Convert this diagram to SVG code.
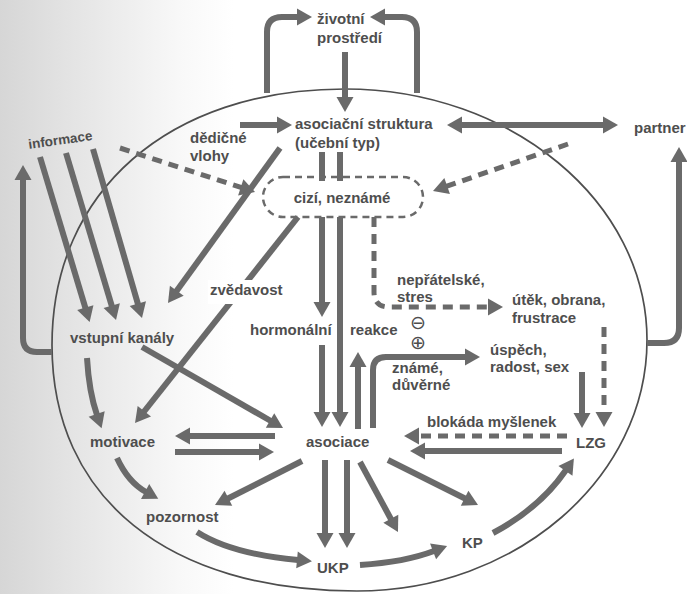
<svg xmlns="http://www.w3.org/2000/svg" width="687" height="594" viewBox="0 0 687 594">
  <defs>
    <linearGradient id="paper" x1="0" y1="0" x2="1" y2="0">
      <stop offset="0" stop-color="#d6d6d6"/>
      <stop offset="0.12" stop-color="#e6e6e6"/>
      <stop offset="0.26" stop-color="#f8f8f8"/>
      <stop offset="0.34" stop-color="#ffffff"/>
    </linearGradient>
    <marker id="ah" markerUnits="userSpaceOnUse" markerWidth="16" markerHeight="18" refX="1" refY="8.5" orient="auto" overflow="visible">
      <path d="M0,0 L15,8.5 L0,17 Z" fill="#6a6a6a"/>
    </marker>
    <marker id="ah2" markerUnits="userSpaceOnUse" markerWidth="16" markerHeight="18" refX="1" refY="8.5" orient="auto-start-reverse" overflow="visible">
      <path d="M0,0 L15,8.5 L0,17 Z" fill="#6a6a6a"/>
    </marker>
    <style>
      text { font-family: "Liberation Sans", Arial, sans-serif; font-weight: bold; font-size: 15px; fill: #4e4e4e; }
      .sym { font-family: "DejaVu Sans", sans-serif; font-weight: normal; font-size: 19px; text-anchor: middle; }
      .ln { fill: none; stroke: #6a6a6a; stroke-width: 6; }
      .arr { fill: none; stroke: #6a6a6a; stroke-width: 6; marker-end: url(#ah); }
      .dash { fill: none; stroke: #6a6a6a; stroke-width: 5; stroke-dasharray: 10 7; marker-end: url(#ah); }
      .outline { fill: none; stroke: #4e4e4e; stroke-width: 1.7; }
    </style>
  </defs>

  <rect width="687" height="594" fill="url(#paper)"/>

  <!-- organism boundary -->
  <path id="boundary" class="outline" d="M345,89 C169,89 52,191 52,345 C52,498 168,591 357,591 C516,591 647,478 647,340 C647,202 511,89 345,89 Z"/>

  <g id="connectors">
    <!-- environment loop -->
    <path class="arr" d="M345,52 V98"/>
    <path class="arr" d="M267,93 V32 Q267,17 282,17 H298"/>
    <path class="arr" d="M417,93 V32 Q417,17 402,17 H384"/>
    <!-- heredity, partner -->
    <path class="arr" d="M240,125 H278"/>
    <path class="ln" d="M461,125 H604" marker-start="url(#ah2)" marker-end="url(#ah2)"/>
    <!-- information into input channels -->
    <path class="arr" d="M40,157 L85.6,308.6"/>
    <path class="arr" d="M66,153 L112,306.6"/>
    <path class="arr" d="M93,149 L138.1,304.6"/>
    <!-- outer feedback loops -->
    <path class="arr" d="M52,352 H37 Q23,352 23,338 V179"/>
    <path class="arr" d="M647,343 H664 Q679,343 679,328 V161"/>
    <!-- dashed arrows into the unknown -->
    <path class="dash" d="M120,148 L241.7,187.7"/>
    <path class="dash" d="M568,144 L446.2,186.4"/>
    <!-- structure to input channels -->
    <path class="arr" d="M280,148 L176.2,291.6"/>
    <!-- curiosity: unknown to motivation -->
    <path class="arr" d="M298,217 L143.7,412"/>
    <!-- input channels -->
    <path class="arr" d="M142,347 L270.9,421"/>
    <path class="arr" d="M87,358 Q89,392 97,415"/>
    <path class="arr" d="M117,458 Q128,482 146,492"/>
    <!-- motivation and association -->
    <path class="arr" d="M275,436 H189"/>
    <path class="arr" d="M175,452 H260"/>
    <!-- structure / unknown / association verticals -->
    <path class="ln" d="M322,152 V181"/>
    <path class="ln" d="M340,152 V181"/>
    <path class="arr" d="M322,217 V303"/>
    <path class="arr" d="M322,345 V413"/>
    <path class="arr" d="M340,217 V413"/>
    <path class="arr" d="M358,429 V366"/>
    <path class="arr" d="M373,428 V370 Q373,357 386,357 H466"/>
    <!-- hostile branch -->
    <path class="dash" d="M374,217 V292 Q374,307 389,307 H489"/>
    <path class="arr" d="M582,372 V414"/>
    <path class="dash" d="M604,327 V413"/>
    <path class="dash" d="M567,436 H418"/>
    <path class="arr" d="M562,451 H424"/>
    <!-- outputs of association -->
    <path class="arr" d="M302,461 L227.5,498.7"/>
    <path class="arr" d="M325,460 V534"/>
    <path class="arr" d="M347,460 V534"/>
    <path class="arr" d="M360,462 L391.3,519.7"/>
    <path class="arr" d="M388,460 L465.5,498.7"/>
    <path class="arr" d="M197,532 C225,550 265,557 298,560"/>
    <path class="arr" d="M360,565 Q405,562 434,551"/>
    <path class="arr" d="M493,533 Q540,508 566,470"/>
  </g>

  <g id="zivotni-prostredi">
    <text x="317" y="24">životní</text>
    <text x="317" y="43">prostředí</text>
  </g>
  <g id="asociacni-struktura">
    <text x="295" y="129">asociační struktura</text>
    <text x="295" y="148">(učební typ)</text>
  </g>
  <g id="dedicne-vlohy">
    <text x="190" y="143">dědičné</text>
    <text x="190" y="161">vlohy</text>
  </g>
  <g id="informace">
    <text x="29" y="149" transform="rotate(-8 29 149)" style="font-size:13.5px">informace</text>
  </g>
  <g id="partner">
    <text x="634" y="133">partner</text>
  </g>
  <g id="cizi-nezname">
    <rect x="263" y="177" width="160" height="40" rx="20" fill="none" stroke="#6a6a6a" stroke-width="2.5" stroke-dasharray="7 5"/>
    <text x="342" y="203" text-anchor="middle">cizí, neznámé</text>
  </g>
  <g id="zvedavost">
    <rect x="208" y="280" width="78" height="24" fill="#ffffff"/>
    <text x="210" y="295">zvědavost</text>
  </g>
  <g id="vstupni-kanaly">
    <text x="70" y="343">vstupní kanály</text>
  </g>
  <g id="motivace">
    <text x="90" y="447">motivace</text>
  </g>
  <g id="hormonalni-reakce">
    <text x="250" y="335">hormonální</text>
    <text x="350" y="335">reakce</text>
    <text class="sym" x="418" y="329">⊖</text>
    <text class="sym" x="418" y="349">⊕</text>
  </g>
  <g id="neprat">
    <text x="397" y="285">nepřátelské,</text>
    <text x="397" y="302">stres</text>
  </g>
  <g id="utek">
    <text x="512" y="305">útěk, obrana,</text>
    <text x="512" y="323">frustrace</text>
  </g>
  <g id="uspech">
    <text x="490" y="355">úspěch,</text>
    <text x="490" y="372">radost, sex</text>
  </g>
  <g id="zname">
    <text x="392" y="373">známé,</text>
    <text x="392" y="390">důvěrné</text>
  </g>
  <g id="asociace">
    <text x="306" y="447">asociace</text>
  </g>
  <g id="blokada">
    <text x="427" y="427">blokáda myšlenek</text>
  </g>
  <g id="lzg">
    <text x="576" y="448">LZG</text>
  </g>
  <g id="pozornost">
    <text x="146" y="522">pozornost</text>
  </g>
  <g id="ukp">
    <text x="317" y="573">UKP</text>
  </g>
  <g id="kp">
    <text x="462" y="548">KP</text>
  </g>
</svg>
